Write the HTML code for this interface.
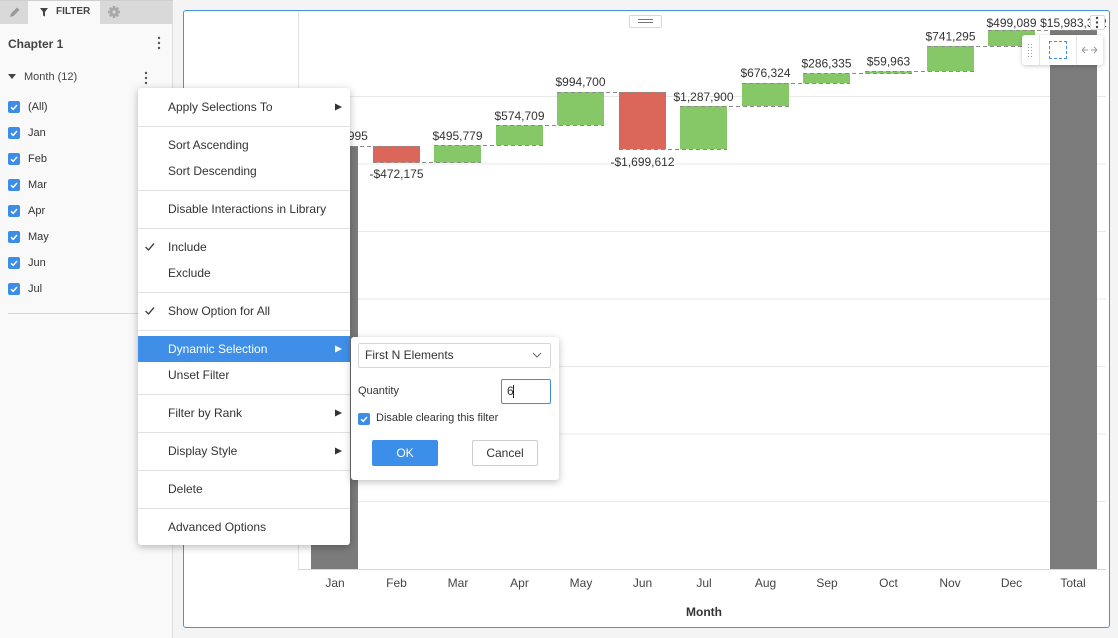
<!DOCTYPE html>
<html><head><meta charset="utf-8">
<style>
*{margin:0;padding:0;box-sizing:border-box}
body{width:1118px;height:638px;overflow:hidden;background:#f4f4f4;font-family:"Liberation Sans",Arial,sans-serif;position:relative;color:#333}
.a{position:absolute}
.t{position:absolute;white-space:nowrap;line-height:14px;height:14px}
.cb{position:absolute;width:12px;height:12px;background:#3b8de8;border-radius:2px}
.sep{position:absolute;left:138px;width:212px;height:1px;background:#e2e2e2}
.mi{position:absolute;left:168px;font-size:12px;color:#333;white-space:nowrap;line-height:14px}
.li{position:absolute;left:28px;font-size:11px;color:#333;line-height:14px}
</style></head><body>

<!-- left panel -->
<div class="a" style="left:0;top:0;width:173px;height:638px;background:#f9f9f9;border-right:1px solid #dcdcdc"></div>
<div class="a" style="left:0;top:0;width:173px;height:1px;background:#cfcfcf"></div>
<div class="a" style="left:0;top:1px;width:28px;height:23px;background:#d9d9d9"></div>
<div class="a" style="left:100px;top:1px;width:72px;height:23px;background:#d9d9d9"></div>
<svg class="a" style="left:0;top:0" width="173" height="24">
  <path d="M10 17 L11 13.5 L17 7.5 L19.5 10 L13.5 16 Z" fill="#9a9a9a"/>
  <path d="M40 8 H48 L45 12 V16.5 L43 15.5 V12 Z" fill="#444"/>
  <g transform="translate(114 12)" fill="#a8a8a8">
    <circle r="4.2"/>
    <rect x="-1.3" y="-6" width="2.6" height="12"/>
    <rect x="-6" y="-1.3" width="12" height="2.6"/>
    <rect x="-1.3" y="-6" width="2.6" height="12" transform="rotate(45)"/>
    <rect x="-1.3" y="-6" width="2.6" height="12" transform="rotate(-45)"/>
    <circle r="1.6" fill="#d9d9d9"/>
  </g>
</svg>
<div class="t" style="left:56px;top:5px;font-size:10px;font-weight:bold;color:#444">FILTER</div>

<div class="t" style="left:8px;top:37px;font-size:12px;font-weight:bold;color:#444">Chapter 1</div>
<svg class="a" style="left:156px;top:36px" width="6" height="14"><circle cx="3" cy="2" r="1.2" fill="#555"/><circle cx="3" cy="7" r="1.2" fill="#555"/><circle cx="3" cy="12" r="1.2" fill="#555"/></svg>

<svg class="a" style="left:7px;top:73px" width="10" height="7"><path d="M1 1 H9 L5 6 Z" fill="#444"/></svg>
<div class="t" style="left:24px;top:70px;font-size:11px;color:#444">Month (12)</div>
<svg class="a" style="left:143px;top:71px" width="6" height="14"><circle cx="3" cy="2" r="1.2" fill="#555"/><circle cx="3" cy="7" r="1.2" fill="#555"/><circle cx="3" cy="12" r="1.2" fill="#555"/></svg>

<div class="cb" style="left:8px;top:101px"></div><div class="li" style="top:100px">(All)</div>
<div class="cb" style="left:8px;top:127px"></div><div class="li" style="top:126px">Jan</div>
<div class="cb" style="left:8px;top:153px"></div><div class="li" style="top:152px">Feb</div>
<div class="cb" style="left:8px;top:179px"></div><div class="li" style="top:178px">Mar</div>
<div class="cb" style="left:8px;top:205px"></div><div class="li" style="top:204px">Apr</div>
<div class="cb" style="left:8px;top:231px"></div><div class="li" style="top:230px">May</div>
<div class="cb" style="left:8px;top:257px"></div><div class="li" style="top:256px">Jun</div>
<div class="cb" style="left:8px;top:283px"></div><div class="li" style="top:282px">Jul</div>
<svg class="a" style="left:8px;top:101px" width="12" height="200" fill="none" stroke="#fff" stroke-width="1.5">
  <path d="M3 6.3 L5.2 8.3 L9 4"/>
  <path d="M3 32.3 L5.2 34.3 L9 30"/>
  <path d="M3 58.3 L5.2 60.3 L9 56"/>
  <path d="M3 84.3 L5.2 86.3 L9 82"/>
  <path d="M3 110.3 L5.2 112.3 L9 108"/>
  <path d="M3 136.3 L5.2 138.3 L9 134"/>
  <path d="M3 162.3 L5.2 164.3 L9 160"/>
  <path d="M3 188.3 L5.2 190.3 L9 186"/>
</svg>
<div class="a" style="left:8px;top:313px;width:158px;height:1px;background:#d8d8d8"></div>

<!-- chart container -->
<div class="a" style="left:183px;top:10px;width:927px;height:618px;background:#fff;border:1px solid #4a92e0;border-radius:3px"></div>

<svg class="a" style="left:0;top:0" width="1118" height="638">
  <defs><clipPath id="c"><rect x="184" y="11" width="924" height="615"/></clipPath></defs>
  <g clip-path="url(#c)">
  <g stroke="#e8e8e8" stroke-width="1">
    <line x1="298" y1="96.5" x2="1106" y2="96.5"/>
    <line x1="298" y1="164" x2="1106" y2="164"/>
    <line x1="298" y1="231.5" x2="1106" y2="231.5"/>
    <line x1="298" y1="299" x2="1106" y2="299"/>
    <line x1="298" y1="366.5" x2="1106" y2="366.5"/>
    <line x1="298" y1="434" x2="1106" y2="434"/>
    <line x1="298" y1="501.5" x2="1106" y2="501.5"/>
  </g>
  <line x1="298.5" y1="11" x2="298.5" y2="569" stroke="#e3e3e3"/>
  <line x1="298" y1="569.5" x2="1106" y2="569.5" stroke="#d6d6d6"/>

  <rect x="311" y="146" width="47" height="423" fill="#7b7b7b"/>
  <rect x="373" y="146" width="47" height="16.7" fill="#db665a"/>
  <rect x="434" y="145.3" width="47" height="17.4" fill="#86c867"/>
  <rect x="496" y="125.3" width="47" height="20" fill="#86c867"/>
  <rect x="557" y="92" width="47" height="33.3" fill="#86c867"/>
  <rect x="619" y="92" width="47" height="57.3" fill="#db665a"/>
  <rect x="680" y="106" width="47" height="43.3" fill="#86c867"/>
  <rect x="742" y="83" width="47" height="23" fill="#86c867"/>
  <rect x="803" y="73.3" width="47" height="10" fill="#86c867"/>
  <rect x="865" y="71.3" width="47" height="2.3" fill="#86c867"/>
  <rect x="927" y="46" width="47" height="25.3" fill="#86c867"/>
  <rect x="988" y="30" width="47" height="16" fill="#86c867"/>
  <rect x="1050" y="30" width="47" height="539" fill="#7b7b7b"/>

  <g stroke="#8a8a8a" stroke-width="1" stroke-dasharray="4,3">
    <line x1="311" y1="146.5" x2="420" y2="146.5"/>
    <line x1="373" y1="162.5" x2="481" y2="162.5"/>
    <line x1="434" y1="145.5" x2="543" y2="145.5"/>
    <line x1="496" y1="125.5" x2="604" y2="125.5"/>
    <line x1="557" y1="92.5" x2="666" y2="92.5"/>
    <line x1="619" y1="149.5" x2="727" y2="149.5"/>
    <line x1="680" y1="106.5" x2="789" y2="106.5"/>
    <line x1="742" y1="83.5" x2="850" y2="83.5"/>
    <line x1="803" y1="73.5" x2="912" y2="73.5"/>
    <line x1="865" y1="71.5" x2="974" y2="71.5"/>
    <line x1="927" y1="46.5" x2="1035" y2="46.5"/>
    <line x1="988" y1="30.5" x2="1097" y2="30.5"/>
  </g>

  <g font-family="Liberation Sans, Arial, sans-serif" font-size="12" fill="#333" text-anchor="middle">
    <text x="334.5" y="140">$12,538,995</text>
    <text x="396.5" y="178">-$472,175</text>
    <text x="457.5" y="140">$495,779</text>
    <text x="519.5" y="120">$574,709</text>
    <text x="580.5" y="86">$994,700</text>
    <text x="642.5" y="166">-$1,699,612</text>
    <text x="703.5" y="101">$1,287,900</text>
    <text x="765.5" y="77">$676,324</text>
    <text x="826.5" y="67.5">$286,335</text>
    <text x="888.5" y="65.5">$59,963</text>
    <text x="950.5" y="40.5">$741,295</text>
    <text x="1011.5" y="27">$499,089</text>
    <text x="1073.5" y="27">$15,983,302</text>
  </g>
  <g font-family="Liberation Sans, Arial, sans-serif" font-size="12" fill="#444" text-anchor="middle">
    <text x="335" y="587">Jan</text>
    <text x="396.5" y="587">Feb</text>
    <text x="458" y="587">Mar</text>
    <text x="519.5" y="587">Apr</text>
    <text x="581" y="587">May</text>
    <text x="642.5" y="587">Jun</text>
    <text x="704" y="587">Jul</text>
    <text x="765.5" y="587">Aug</text>
    <text x="827" y="587">Sep</text>
    <text x="888.5" y="587">Oct</text>
    <text x="950" y="587">Nov</text>
    <text x="1011.5" y="587">Dec</text>
    <text x="1073" y="587">Total</text>
    <text x="704" y="616" font-weight="bold" fill="#333">Month</text>
  </g>
  </g>
</svg>

<!-- top handle -->
<div class="a" style="left:629px;top:15px;width:33px;height:13px;background:#fff;border:1px solid #d8d8d8;border-radius:2px"></div>
<div class="a" style="left:638px;top:19px;width:15px;height:1px;background:#777"></div>
<div class="a" style="left:638px;top:22px;width:15px;height:1px;background:#777"></div>

<!-- kebab top right -->
<div class="a" style="left:1090px;top:15px;width:15px;height:15px;background:#fff;border:1px solid #d8d8d8;border-radius:2px"></div>
<svg class="a" style="left:1094px;top:16px" width="6" height="13"><circle cx="3" cy="2" r="1.2" fill="#444"/><circle cx="3" cy="6.5" r="1.2" fill="#444"/><circle cx="3" cy="11" r="1.2" fill="#444"/></svg>

<!-- toolbar -->
<div class="a" style="left:1022px;top:35px;width:81px;height:30px;background:#fff;border-radius:3px;box-shadow:0 1px 4px rgba(0,0,0,0.22)"></div>
<div class="a" style="left:1039px;top:35px;width:1px;height:30px;background:#e6e6e6"></div>
<div class="a" style="left:1076px;top:35px;width:1px;height:30px;background:#e6e6e6"></div>
<svg class="a" style="left:1027px;top:43px" width="8" height="15" fill="#9a9a9a">
  <rect x="1" y="1" width="1" height="1"/><rect x="4" y="1" width="1" height="1"/>
  <rect x="1" y="4" width="1" height="1"/><rect x="4" y="4" width="1" height="1"/>
  <rect x="1" y="7" width="1" height="1"/><rect x="4" y="7" width="1" height="1"/>
  <rect x="1" y="10" width="1" height="1"/><rect x="4" y="10" width="1" height="1"/>
  <rect x="1" y="13" width="1" height="1"/><rect x="4" y="13" width="1" height="1"/>
</svg>
<div class="a" style="left:1049px;top:41px;width:18px;height:18px;border:1px dashed #3b8fe6"></div>
<svg class="a" style="left:1080px;top:44px" width="20" height="12" fill="none" stroke="#999" stroke-width="1">
  <path d="M2 6 H8 M2 6 L5 3 M2 6 L5 9"/>
  <path d="M11 6 H17 M17 6 L14 3 M17 6 L14 9"/>
</svg>

<!-- context menu -->
<div class="a" style="left:138px;top:88px;width:212px;height:457px;background:#fff;border-radius:3px;box-shadow:0 2px 8px rgba(0,0,0,0.28)"></div>
<div class="a" style="left:138px;top:336px;width:212px;height:26px;background:#3f8fe9"></div>
<div class="sep" style="top:126px"></div>
<div class="sep" style="top:190px"></div>
<div class="sep" style="top:228px"></div>
<div class="sep" style="top:292px"></div>
<div class="sep" style="top:330px"></div>
<div class="sep" style="top:394px"></div>
<div class="sep" style="top:432px"></div>
<div class="sep" style="top:470px"></div>
<div class="sep" style="top:508px"></div>
<div class="mi" style="top:100px">Apply Selections To</div>
<div class="mi" style="top:138px">Sort Ascending</div>
<div class="mi" style="top:164px">Sort Descending</div>
<div class="mi" style="top:202px">Disable Interactions in Library</div>
<div class="mi" style="top:240px">Include</div>
<div class="mi" style="top:266px">Exclude</div>
<div class="mi" style="top:304px">Show Option for All</div>
<div class="mi" style="top:342px;color:#fff">Dynamic Selection</div>
<div class="mi" style="top:368px">Unset Filter</div>
<div class="mi" style="top:406px">Filter by Rank</div>
<div class="mi" style="top:444px">Display Style</div>
<div class="mi" style="top:482px">Delete</div>
<div class="mi" style="top:520px">Advanced Options</div>
<svg class="a" style="left:0;top:0" width="360" height="560">
  <path d="M335 103.5 L342 107 L335 110.5 Z" fill="#333"/>
  <path d="M335 345.5 L342 349 L335 352.5 Z" fill="#fff"/>
  <path d="M335 409.5 L342 413 L335 416.5 Z" fill="#333"/>
  <path d="M335 447.5 L342 451 L335 454.5 Z" fill="#333"/>
  <path d="M145.5 247 L148.5 250 L154 243.5" fill="none" stroke="#444" stroke-width="1.4"/>
  <path d="M145.5 311 L148.5 314 L154 307.5" fill="none" stroke="#444" stroke-width="1.4"/>
</svg>

<!-- submenu -->
<div class="a" style="left:351px;top:337px;width:208px;height:143px;background:#fff;border-radius:3px;box-shadow:0 2px 8px rgba(0,0,0,0.25)"></div>
<div class="a" style="left:358px;top:343px;width:193px;height:25px;border:1px solid #d6d6d6;border-radius:2px;background:#fff"></div>
<div class="t" style="left:365px;top:348px;font-size:12px;color:#333">First N Elements</div>
<svg class="a" style="left:531px;top:351px" width="12" height="8"><path d="M2 2 L6 6 L10 2" fill="none" stroke="#666" stroke-width="1"/></svg>
<div class="t" style="left:358px;top:384px;font-size:11px;color:#333">Quantity</div>
<div class="a" style="left:501px;top:379px;width:50px;height:25px;border:1px solid #3d8fe6;border-radius:2px;background:#fff"></div>
<div class="t" style="left:507px;top:384px;font-size:12px;color:#333">6</div>
<div class="a" style="left:513px;top:385px;width:1px;height:13px;background:#222"></div>
<div class="cb" style="left:358px;top:413px"></div>
<svg class="a" style="left:358px;top:413px" width="12" height="12"><path d="M3 6.3 L5.2 8.3 L9 4" fill="none" stroke="#fff" stroke-width="1.5"/></svg>
<div class="t" style="left:376px;top:411px;font-size:11px;color:#333">Disable clearing this filter</div>
<div class="a" style="left:372px;top:440px;width:66px;height:26px;background:#3c8fe9;border-radius:2px;color:#fff;font-size:12px;line-height:26px;text-align:center">OK</div>
<div class="a" style="left:472px;top:440px;width:66px;height:26px;background:#fff;border:1px solid #cfcfcf;border-radius:2px;color:#333;font-size:12px;line-height:24px;text-align:center">Cancel</div>

</body></html>
